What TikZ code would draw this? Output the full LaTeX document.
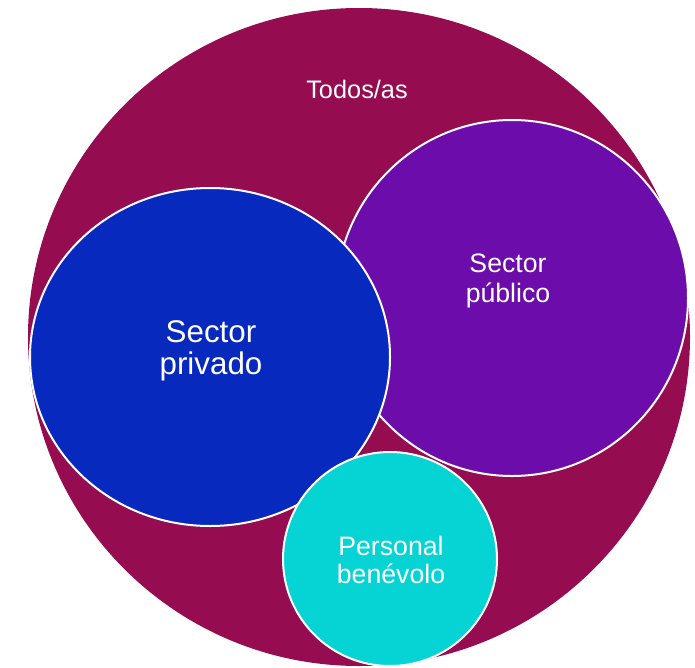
\documentclass[tikz,border=0pt]{standalone}
\usepackage{fontspec}
\setmainfont{Liberation Sans}
\usepackage{tikz}
\usetikzlibrary{shapes.geometric,positioning}
\definecolor{todos}{RGB}{149,12,81}
\definecolor{privado}{RGB}{7,41,190}
\definecolor{publico}{RGB}{108,12,170}
\definecolor{benevolo}{RGB}{6,212,212}
\tikzstyle{conjunto} = [ellipse, inner sep=0pt, draw=white, line width=1.5pt]
\tikzstyle{etiqueta} = [text=white, align=center, inner sep=0pt]

\begin{document}
\begin{tikzpicture}[x=0.75pt,y=-0.75pt]
\useasboundingbox (0,0) rectangle (695,667);
%\fill[white] (0,0) rectangle (695,667);
 \node[ellipse, fill=todos, inner sep=0pt, minimum width=662*0.75pt, minimum height=658*0.75pt] (todos) at (359,337) {};
 \node[conjunto, fill=publico, minimum width=352*0.75pt, minimum height=356*0.75pt] (publico) at (512,298) {};
 \node[conjunto, fill=privado, minimum width=360*0.75pt, minimum height=338*0.75pt] (privado) at (210,357) {};
 \node[conjunto, fill=benevolo, minimum width=214*0.75pt, minimum height=214*0.75pt] (benevolo) at (390,559) {};

 \node[etiqueta, font=\fontsize{19}{22}\selectfont] (ttodos) at (357,89) {Todos/as};
 \node[etiqueta, font=\fontsize{23.5}{24}\selectfont] (tprivado) at (211,351) {Sector\\privado};
 \node[etiqueta, font=\fontsize{20}{23}\selectfont] (tpublico) at (508,281) {Sector\\público};
 \node[etiqueta, font=\fontsize{20}{20.5}\selectfont] (tbenevolo) at (391,560) {Personal\\benévolo};
\end{tikzpicture}
\end{document}
